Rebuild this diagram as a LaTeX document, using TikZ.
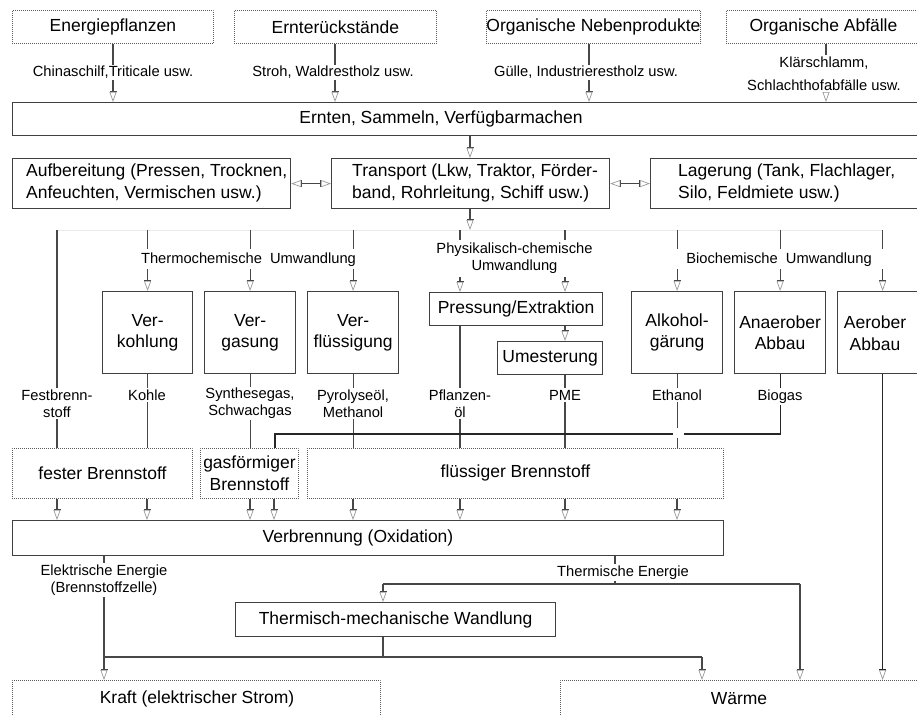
\documentclass[tikz,border=0pt]{standalone}
\usepackage{fontspec}
\setmainfont{Liberation Sans}
\usetikzlibrary{arrows.meta,backgrounds}
\newcommand{\boxfont}{\fontsize{17.5}{21.5}\selectfont}
\newcommand{\labfont}{\fontsize{14.7}{17}\selectfont}
\begin{document}
\begin{tikzpicture}[x=1pt,y=-1pt,
  box/.style={draw=black!75, line width=1.2pt, rectangle, inner sep=0pt, font=\boxfont, align=center, anchor=north west},
  dbox/.style={draw=black!65, line width=0.9pt, dash pattern=on 0.9pt off 1.1pt, rectangle, inner sep=0pt, font=\boxfont, align=center, anchor=north west},
  btext/.style={font=\boxfont, inner sep=0pt, align=center},
  ltext/.style={font=\boxfont, inner sep=0pt, align=left, anchor=west},
  lab/.style={fill=white, inner sep=1.5pt, font=\labfont, align=center},
  slab/.style={lab, anchor=base},
  conn/.style={draw=black!72, line width=1.2pt},
  arr/.style={conn, -{Bar[width=7pt,sep=0pt]Triangle[open,length=10pt,width=7pt,color=black!40,line width=0.7pt]}},
  darr/.style={conn, {Triangle[open,length=10pt,width=7pt,color=black!40,line width=0.7pt]Bar[width=7pt,sep=0pt]}-{Bar[width=7pt,sep=0pt]Triangle[open,length=10pt,width=7pt,color=black!40,line width=0.7pt]}},
]
\useasboundingbox (0,0) rectangle (917,714);
\clip (0,0) rectangle (917,714);

% ---------- boxes ----------
\node[dbox, minimum width=201pt, minimum height=33pt] (src1) at (12,10) {Energiepflanzen};
\node[dbox, minimum width=202pt, minimum height=33pt] (src2) at (234,10) {Ernterückstände};
\node[dbox, minimum width=214pt, minimum height=33pt] (src3) at (486,10) {Organische Nebenprodukte};
\node[dbox, minimum width=194pt, minimum height=33pt] (src4) at (726,10) {Organische Abfälle};

\node[box, minimum width=913pt, minimum height=33pt] (ernten) at (12,102) {};
\node[btext] (erntentx) at (441,118.5) {Ernten, Sammeln, Verfügbarmachen};

\node[box, minimum width=278pt, minimum height=50pt] (aufb) at (12,158) {};
\node[ltext] (aufbtx) at (26,183) {Aufbereitung (Pressen, Trocknen,\\Anfeuchten, Vermischen usw.)};
\node[box, minimum width=278pt, minimum height=50pt] (trans) at (331,158) {};
\node[ltext] (transtx) at (352,183) {Transport (Lkw, Traktor, Förder-\\band, Rohrleitung, Schiff usw.)};
\node[box, minimum width=280pt, minimum height=50pt] (lager) at (650,158) {};
\node[ltext] (lagertx) at (678,183) {Lagerung (Tank, Flachlager,\\Silo, Feldmiete usw.)};

\node[box, minimum width=90pt, minimum height=82pt] (verk) at (102,291) {Ver-\\kohlung};
\node[box, minimum width=91pt, minimum height=82pt] (vergas) at (204,291) {Ver-\\gasung};
\node[box, minimum width=91pt, minimum height=82pt] (verfl) at (307,291) {Ver-\\flüssigung};
\node[box, minimum width=173pt, minimum height=33pt] (press) at (429,292) {Pressung/Extraktion};
\node[box, minimum width=105pt, minimum height=33pt] (umest) at (497,341) {Umesterung};
\node[box, minimum width=91pt, minimum height=82pt] (alk) at (631,291) {Alkohol-\\gärung};
\node[box, minimum width=91pt, minimum height=82pt] (anaer) at (734,291) {Anaerober\\Abbau};
\node[box, minimum width=90pt, minimum height=82pt] (aer) at (837,291) {};
\node[btext] (aertx) at (875,333) {Aerober\\Abbau};

\node[dbox, minimum width=180pt, minimum height=50pt] (fest) at (12,448) {fester Brennstoff};
\node[dbox, minimum width=98pt, minimum height=50pt] (gas) at (200,448) {gasförmiger\\Brennstoff};
\node[dbox, minimum width=416pt, minimum height=50pt] (fl) at (307,448) {flüssiger Brennstoff};

\node[box, minimum width=711pt, minimum height=35pt] (verb) at (12,520) {};
\node[btext] (verbtx) at (358,538) {Verbrennung (Oxidation)};

\node[box, minimum width=320pt, minimum height=34pt] (therm) at (235,602) {Thermisch-mechanische Wandlung};

\node[dbox, minimum width=368pt, minimum height=70pt] (kraft) at (12,680) {};
\node[btext] (krafttx) at (197,699) {Kraft (elektrischer Strom)};
\node[dbox, minimum width=360pt, minimum height=70pt] (waerme) at (560,680) {};
\node[btext] (waermetx) at (739,699) {Wärme};

% ---------- connectors (behind labels) ----------
\coordinate (r1) at (0,230);
\coordinate (tdown) at (470,230);
\coordinate (cross) at (0,434);
\coordinate (j1) at (104,657);
\coordinate (j2) at (702,657);
\coordinate (j3) at (383,657);
\coordinate (k1) at (615,584);
\coordinate (k2) at (383,584);
\coordinate (k3) at (800,584);
\begin{pgfonlayer}{background}
\draw[black!8, line width=1pt] (r1 -| 57,0) -- (r1 -| aer.north);
\draw[arr] (src1.south -| 113,0) -- (ernten.north -| 113,0);
\draw[arr] (src2.south -| 335,0) -- (ernten.north -| 335,0);
\draw[arr] (src3.south -| 589,0) -- (ernten.north -| 589,0);
\draw[arr] (src4.south -| 826,0) -- (ernten.north -| 826,0);
\draw[arr] (ernten.south -| tdown) -- (trans.north -| tdown);
\draw[darr] (aufb.east) -- (trans.west);
\draw[darr] (trans.east) -- (lager.west);
\draw[arr] (trans.south -| tdown) -- (tdown);
\foreach \n in {verk,vergas,verfl,alk,anaer,aer}
  \draw[arr] (r1 -| \n.north) -- (\n.north);
\draw[arr] (r1 -| 460,0) -- (press.north -| 460,0);
\draw[arr] (r1 -| 565,0) -- (press.north -| 565,0);
\draw[arr] (press.south -| 565,0) -- (umest.north -| 565,0);
\draw[conn] (r1 -| 57,0) -- (fest.north -| 57,0);
\draw[conn] (verk.south) -- (fest.north -| verk.south);
\draw[conn] (vergas.south) -- (gas.north -| vergas.south);
\draw[conn] (verfl.south) -- (fl.north -| verfl.south);
\draw[conn] (press.south -| 460,0) -- (fl.north -| 460,0);
\draw[conn] (umest.south -| 565,0) -- (fl.north -| 565,0);
\draw[conn] (alk.south) -- (fl.north -| alk.south);
\draw[conn, draw=black!85] (anaer.south) -- (cross -| anaer.south) -- (cross -| 275,0) -- (gas.north -| 275,0);
\draw[arr, draw=black!85] (aer.south) -- (waerme.north -| aer.south);
\foreach \x in {57,147} \draw[arr] (fest.south -| \x,0) -- (verb.north -| \x,0);
\foreach \x in {250,274} \draw[arr] (gas.south -| \x,0) -- (verb.north -| \x,0);
\foreach \x in {353,460,565,677} \draw[arr] (fl.south -| \x,0) -- (verb.north -| \x,0);
\draw[conn] (verb.south -| j1) -- (j1);
\draw[arr] (j1) -- (kraft.north -| j1);
\draw[conn] (j1) -- (j2);
\draw[arr] (j2) -- (waerme.north -| j2);
\draw[conn] (therm.south -| j3) -- (j3);
\draw[conn] (verb.south -| k1) -- (k1);
\draw[conn] (k2) -- (k3);
\draw[arr] (k2) -- (therm.north -| k2);
\draw[arr] (k3) -- (waerme.north -| k3);
\end{pgfonlayer}

% gap at crossing
\fill[white] (673,428) rectangle (684,438);

% ---------- labels ----------
\node[slab] (l1) at (113,77) {Chinaschilf,Triticale usw.};
\node[slab] (l2) at (333,77) {Stroh, Waldrestholz usw.};
\node[slab] (l3) at (586,77) {Gülle, Industrierestholz usw.};
\node[lab, font=\fontsize{14.7}{23}\selectfont] (l4) at (824,73.5) {Klärschlamm,\\Schlachthofabfälle usw.};

\node[slab, inner ysep=3pt] (thermo) at (248.5,263) {Thermochemische~~Umwandlung};
\node[lab, inner ysep=3pt] (phys) at (514.5,258.5) {Physikalisch-chemische\\Umwandlung};
\node[slab, inner ysep=3pt, inner xsep=12pt] (bio) at (779,263) {Biochemische~~Umwandlung};

\node[lab] (o1) at (57,403.5) {Festbrenn-\\stoff};
\node[slab] (o2) at (147,400) {Kohle};
\node[lab] (o3) at (250,403.5) {Synthesegas,\\Schwachgas};
\node[lab] (o4) at (353,403.5) {Pyrolyseöl,\\Methanol};
\node[lab] (o5) at (460,403.5) {Pflanzen-\\öl};
\node[slab] (o6) at (565,400) {PME};
\node[slab] (o7) at (677,400) {Ethanol};
\node[slab] (o8) at (780,400) {Biogas};

\node[lab] (e1) at (104,580) {Elektrische Energie\\(Brennstoffzelle)};
\node[slab] (e2) at (623,576) {Thermische Energie};
\end{tikzpicture}
\end{document}
